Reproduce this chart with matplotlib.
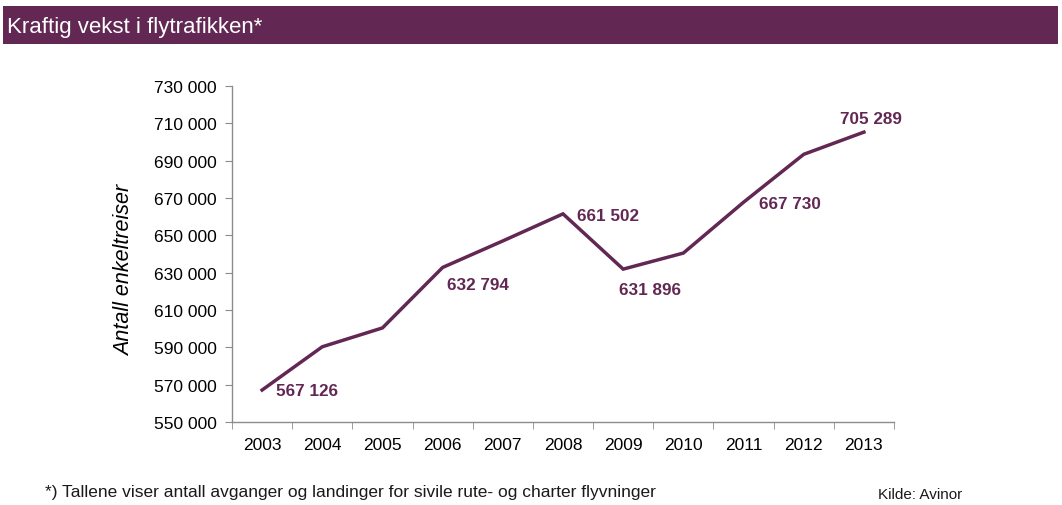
import matplotlib
matplotlib.use("Agg")
import matplotlib.pyplot as plt
from matplotlib import font_manager
from matplotlib.patches import Rectangle
from matplotlib.ticker import FixedLocator, FuncFormatter

names = {f.name for f in font_manager.fontManager.ttflist}
BASE = "Liberation Sans" if "Liberation Sans" in names else "DejaVu Sans"
NARROW = "Liberation Sans Narrow" if "Liberation Sans Narrow" in names else BASE
plt.rcParams["font.family"] = [BASE, "DejaVu Sans"]

# Data
years = ["2003", "2004", "2005", "2006", "2007", "2008", "2009", "2010", "2011", "2012", "2013"]
passengers = [567126, 590300, 600400, 632794, 647000, 661502, 631896, 640500, 667730, 693400, 705289]
labelled_years = ["2003", "2006", "2008", "2009", "2011", "2013"]
y_ticks = [550000, 570000, 590000, 610000, 630000, 650000, 670000, 690000, 710000, 730000]

title = "Kraftig vekst i flytrafikken*"
y_label = "Antall enkeltreiser"
footnote = "*) Tallene viser antall avganger og landinger for sivile rute- og charter flyvninger"
source = "Kilde: Avinor"

PURPLE = "#622853"
GRAY = "#8c8c8c"

W, H = 1062, 506
fig = plt.figure(figsize=(W / 100, H / 100), dpi=100)

# Title band
fig.patches.append(Rectangle((3 / W, 1 - 45 / H), 1055 / W, 38 / H,
                             transform=fig.transFigure, facecolor=PURPLE,
                             edgecolor="none", zorder=0))
fig.text(7 / W, 1 - 27 / H, title, color="white", fontsize=16,
         family=[NARROW, "DejaVu Sans"], va="center", ha="left")

ax = fig.add_axes([232 / W, 1 - 423 / H, (894 - 232) / W, (423 - 87) / H])
x = list(range(len(years)))
ax.plot(x, passengers, color=PURPLE, lw=2.5, solid_joinstyle="miter", zorder=3)

ax.set_xlim(-0.5, len(years) - 0.5)
ax.set_ylim(y_ticks[0], y_ticks[-1])
ax.yaxis.set_major_locator(FixedLocator(y_ticks))
ax.yaxis.set_major_formatter(FuncFormatter(lambda v, p: f"{int(v):,}".replace(",", " ")))
ax.set_xticks(x)
ax.set_xticklabels(years)
ax.xaxis.set_minor_locator(FixedLocator([i - 0.5 for i in range(len(years) + 1)]))
ax.tick_params(axis="x", which="major", length=0, pad=11, labelsize=12.5)
ax.tick_params(axis="x", which="minor", length=5, color=GRAY, direction="out")
ax.tick_params(axis="y", length=5, color=GRAY, pad=6, labelsize=12.5)
for side in ("top", "right"):
    ax.spines[side].set_visible(False)
for side in ("left", "bottom"):
    ax.spines[side].set_color(GRAY)
    ax.spines[side].set_linewidth(1.0)

ax.set_ylabel(y_label, fontsize=15.5, style="italic")
ax.yaxis.set_label_coords(-0.146, 0.455)

# Value labels: offsets in points (dx, dy, ha, va)
offsets = {
    "2003": (10, 0, "left", "center"),
    "2006": (3, -12, "left", "center"),
    "2008": (10, -1, "left", "center"),
    "2009": (-3, -15, "left", "center"),
    "2011": (11, -1, "left", "center"),
    "2013": (-17, 10, "left", "center"),
}
for yr in labelled_years:
    i = years.index(yr)
    v = passengers[i]
    dx, dy, ha, va = offsets[yr]
    ax.annotate(f"{v:,}".replace(",", " "), (i, v), xytext=(dx, dy),
                textcoords="offset points", ha=ha, va=va, color=PURPLE,
                fontsize=12.3, fontweight="bold")

fig.text(45 / W, 1 - 493 / H, footnote, fontsize=12.5, family=[NARROW, "DejaVu Sans"],
         va="center", ha="left", color="#1a1a1a")
fig.text(878 / W, 1 - 495 / H, source, fontsize=11, family=[NARROW, "DejaVu Sans"],
         va="center", ha="left", color="#1a1a1a")

fig.savefig("out.png", dpi=100)
